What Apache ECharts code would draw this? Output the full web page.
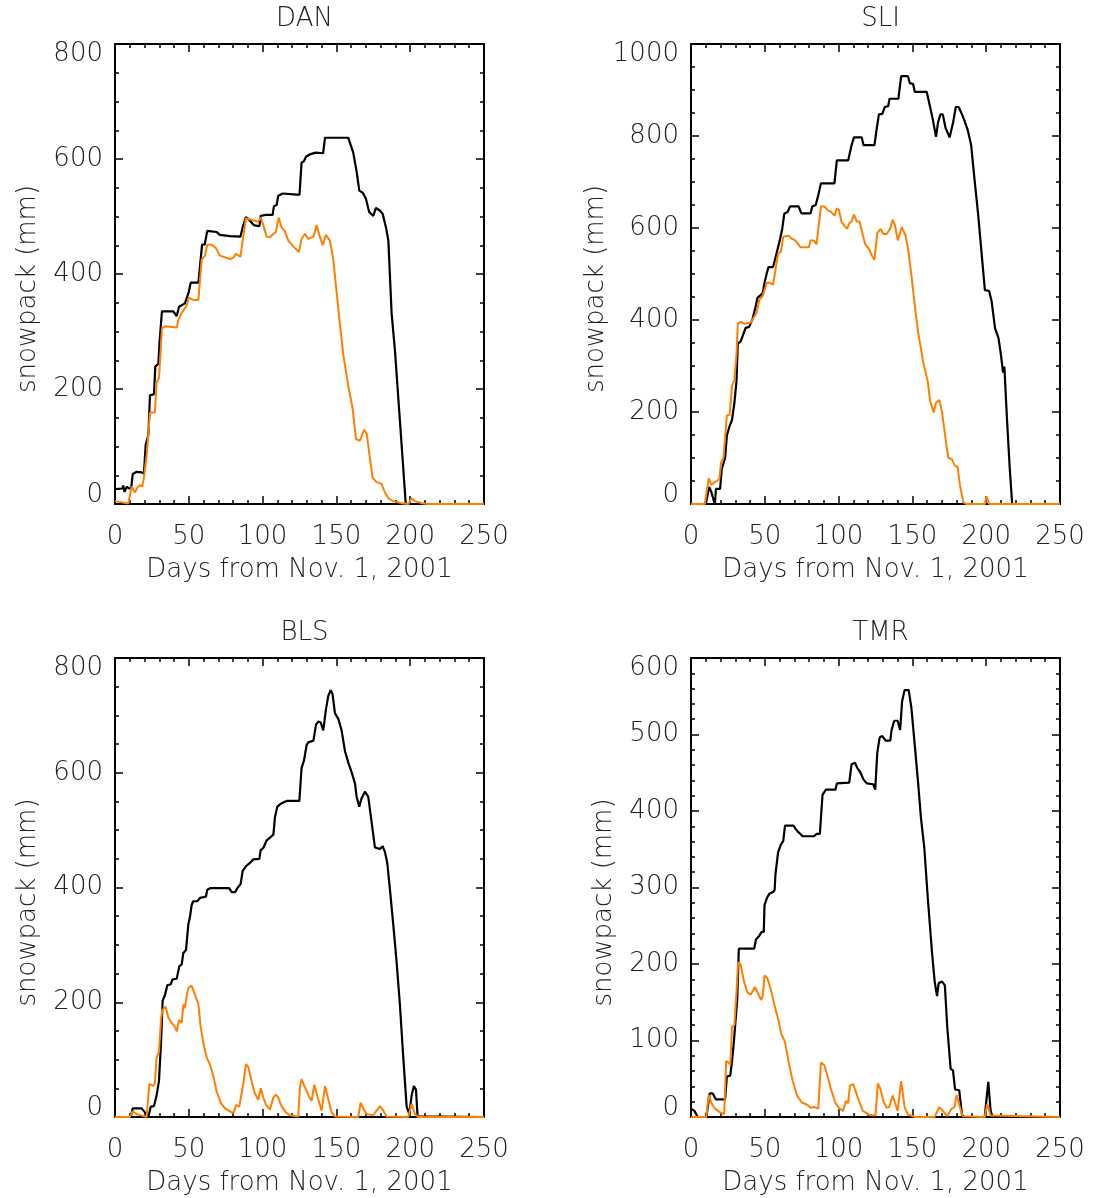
<!DOCTYPE html>
<html>
<head>
<meta charset="utf-8">
<script src="https://cdn.jsdelivr.net/npm/echarts@6/dist/echarts.min.js"></script>
<style>
html,body{margin:0;padding:0;background:#fff;}
#chart{width:1096px;height:1198px;}
</style>
</head>
<body>
<div id="chart"></div>
<script>
// ---------- data (day since Nov 1 2001, snowpack mm) ----------
const panelNames = ['DAN', 'SLI', 'BLS', 'TMR'];
const xTicks = [0, 50, 100, 150, 200, 250];
const yMaxes = [800, 1000, 800, 600];
const yIntervals = [200, 200, 200, 100];

const danBlack = [[0,26],[5,27],[5.6,32],[6.5,21],[8,30],[9.5,27],[11,28],[12,52],[14.6,56],[18,55],[19.6,53],[20.8,103],[22.6,120],[23.7,189],[26.4,191],[27.3,239],[29.4,244],[30.1,279],[31.8,335],[39.5,335],[41.8,327],[43.4,343],[47.4,349],[48.5,352],[50,369],[51.3,385],[56.5,385],[59,451],[60.8,451],[62.5,475],[68.9,473],[71,468],[78,466],[85,465],[86.5,481],[88.7,499],[91,494],[94,485],[97.8,483],[98.7,501],[102.7,503],[106.8,503],[107.7,518],[109.5,520],[110.6,536],[113.6,540],[123,538],[125,538],[126.4,594],[128,596],[129.4,604],[132,608],[136,611],[141,610],[142.3,637],[158,637],[161.4,611],[163.7,578],[165.5,545],[168,541],[170,531],[172.2,508],[175,501],[176.8,515],[179.5,510],[181.3,505],[183.6,481],[185.2,458],[187.4,332],[189.7,266],[193,146],[197,0],[250,0]];
const danOrange = [[0,5],[9,1],[11.3,30],[13.5,20],[15,28],[17,33],[18.5,30],[19.6,46],[21.5,86],[23.7,159],[27,159],[28.2,212],[29.8,219],[31.8,305],[33.9,309],[41.8,307],[42.9,319],[45,332],[46.3,335],[48.5,345],[50,359],[53,355],[56.5,355],[58.7,425],[61,432],[62.5,451],[65.5,451],[68.4,445],[71,432],[78,426],[80,428],[82,435],[85,430],[86.5,458],[88.7,497],[97,491],[98.7,498],[100.5,485],[102.7,465],[105,464],[107,469],[109,473],[110.9,498],[112.9,481],[115,475],[117.4,458],[120.8,448],[124.6,438],[126.4,461],[128.7,470],[131,461],[134.4,465],[136.6,485],[138.4,468],[140.7,450],[142.9,468],[145.6,458],[147.9,425],[150,372],[152.4,312],[154.7,259],[158,206],[161,166],[163.3,113],[166,110],[168.7,129],[170.5,123],[172.7,80],[174.5,46],[177.2,38],[180.6,35],[182.9,20],[185.2,10],[188.5,5],[195,1],[198.7,0],[201,10],[203,5],[208.8,1],[212,0],[250,0]];

const sliBlack = [[0,0],[10,0],[12.3,37],[13.9,25],[15.6,5],[16.2,0],[16.9,33],[19.7,33],[20.8,75],[23.1,100],[24.3,149],[26.2,170],[27.8,183],[29.4,220],[30.8,266],[31.7,349],[33.6,353],[35.4,369],[37,383],[39.4,385],[41.7,402],[44,432],[45,448],[48.6,458],[49.8,481],[51.4,502],[52.5,515],[55.6,515],[57.9,544],[60.2,574],[61.8,598],[63.2,631],[65.5,635],[67.1,647],[72.9,647],[74.8,632],[81,632],[82.2,647],[84.5,650],[86.3,672],[88,697],[97.2,697],[98.8,747],[106.5,747],[107.6,763],[108.8,780],[110.4,797],[115.7,797],[116.9,780],[124.3,780],[125.7,813],[127.3,847],[129.6,848],[131.3,863],[133.6,865],[134.5,881],[140.5,881],[142.4,930],[147,930],[148.2,915],[150.5,913],[151.6,896],[159.7,896],[162,863],[163.7,838],[166,798],[167.4,830],[169,847],[170.6,847],[172.5,817],[175.2,797],[177.6,830],[179.4,863],[181.3,863],[183.6,847],[185.2,834],[187.5,813],[189.8,780],[192.1,705],[194.5,631],[196.8,548],[199.1,465],[200.2,469],[202,463],[203.7,440],[206,382],[208.3,361],[210,324],[211.4,286],[212.3,299],[214.1,183],[216,75],[217.6,0],[250,0]];
const sliOrange = [[0,0],[9.3,0],[12,56],[13.9,41],[15.5,46],[17.4,50],[19.2,54],[20.4,91],[22,100],[24.3,193],[26.2,193],[27.8,257],[29.4,270],[30.8,324],[31.7,392],[33.6,396],[35.9,392],[40.5,394],[42.8,407],[44.4,415],[46.3,444],[48.6,452],[49.8,465],[51.4,481],[53.2,481],[55.6,477],[56.7,481],[59,544],[60.9,548],[62.5,581],[63.7,585],[66,583],[68.3,577],[70.6,573],[72.9,564],[74.1,558],[79.9,558],[81,573],[83.3,573],[85,564],[86.3,598],[88,647],[90.3,647],[92.6,639],[94.9,635],[97.2,627],[98.8,643],[100.2,639],[101.9,614],[104.2,604],[105.8,598],[107.2,610],[108.8,614],[110.4,629],[112.3,614],[114.2,614],[116.4,585],[118.1,564],[120.4,556],[122.7,539],[124.3,531],[126.2,589],[127.3,589],[128.5,598],[130.3,587],[132.6,587],[135,599],[136.6,618],[138.2,606],[140.1,573],[142.8,602],[145.2,585],[147,556],[149.3,498],[151.6,432],[153.9,373],[157.4,307],[160.4,266],[162,224],[164.4,199],[166,220],[168.3,226],[170.1,199],[172.5,141],[174.3,100],[176.6,98],[178.9,83],[180.6,81],[182.2,41],[184.5,4],[186.4,0],[199.1,0],[200.2,17],[202,0],[250,0]];

const blsBlack = [[0,0],[10.6,0],[12,15],[18,15],[20.3,8],[22.6,0],[24.2,18],[26.4,19],[28.2,38],[29.8,63],[31.2,131],[32.3,203],[33.9,213],[35.5,230],[37.7,231],[39,240],[41.8,241],[43.6,263],[45.2,266],[46.3,286],[48.1,291],[49.7,336],[50.8,349],[51.9,369],[53,376],[55.8,376],[57.6,382],[61.6,384],[62.5,396],[64.8,399],[77.4,399],[79,392],[81.5,392],[82.9,399],[85.1,406],[86.5,429],[88.7,437],[91,442],[93.7,449],[97.8,450],[98.7,465],[100.5,469],[102.7,482],[105,487],[107.3,492],[108.4,523],[110,541],[111.8,545],[114,548],[116.7,551],[124.9,551],[126.4,608],[128,621],[129.8,648],[130.9,653],[134.4,656],[136.2,684],[137.7,689],[139.3,688],[141.1,674],[142.9,710],[144.5,734],[146.1,744],[147.4,737],[149,704],[151.3,694],[153.5,674],[155.8,638],[158,618],[160.3,601],[162.6,581],[163.7,558],[165.5,541],[167,555],[169.3,567],[171.6,558],[173.8,515],[176.1,470],[179.5,467],[181.3,472],[182.9,462],[184.5,442],[186.3,396],[188.5,336],[190.8,270],[193,197],[195.3,104],[197.6,18],[199.4,5],[201,38],[202.5,54],[203.9,48],[205,1],[206,0],[250,0]];
const blsOrange = [[0,0],[10,0],[12,10],[14.7,5],[21.4,0],[23.3,58],[25.5,54],[27,58],[28.2,104],[29.8,114],[31.2,170],[32.1,187],[34.3,192],[36.1,174],[38.4,164],[40.6,157],[41.8,149],[43.4,169],[44.5,170],[45.2,164],[46.3,196],[47.4,190],[48.5,210],[49.7,225],[51.9,229],[54.2,213],[56.5,197],[58,157],[60.3,124],[62.1,104],[64.4,91],[66.6,72],[68.9,44],[71.6,25],[74.5,15],[79,8],[80.5,8],[82,21],[84.2,18],[85.1,16],[86.9,58],[88.7,92],[90.3,87],[92.6,61],[94.8,41],[97.1,30],[98.7,50],[100.5,34],[102.3,21],[105,13],[107.3,34],[109,39],[110.6,34],[112.9,18],[115.8,8],[118.5,3],[124.2,1],[125.3,51],[126.4,66],[127.6,58],[128.7,59],[131,38],[133.2,28],[135,56],[136.2,59],[137.7,31],[140,11],[141,8],[142.3,54],[144.5,31],[146.8,8],[149,1],[150,0],[164.8,0],[166.4,25],[168.2,15],[170.5,5],[175,3],[177.2,11],[179.5,19],[181.3,13],[184,1],[185,0],[198.7,0],[201,23],[203.2,5],[205.5,0],[250,0]];

const tmrBlack = [[0,11],[2.3,8],[4.6,0],[10.4,0],[12.7,31],[14.6,31],[16.9,23],[23.1,23],[24.3,53],[26.6,54],[27.8,73],[28.9,95],[30.2,95],[31.3,153],[32.4,220],[42.8,220],[44,232],[45.1,234],[46.3,237],[47.9,242],[49.3,242],[49.8,277],[51.6,287],[53.2,292],[55.6,294],[56.7,297],[57.2,317],[59,346],[60.9,356],[62.5,361],[63.7,381],[69.4,381],[71.1,376],[72.9,372],[75.7,367],[83.3,367],[85,370],[87.3,370],[89.1,421],[91.4,428],[97.9,428],[98.8,436],[107.2,437],[108.8,461],[111.1,463],[112.7,456],[114.6,451],[116.9,441],[119.2,436],[123.4,435],[124.8,428],[126.2,476],[127.8,496],[129.6,498],[131.9,492],[135,492],[135.9,506],[137.7,518],[140,518],[141.7,506],[143,543],[144.7,558],[147.5,558],[149.3,535],[151.6,486],[153.9,436],[155.8,391],[158.1,351],[160.4,287],[163.2,217],[165.1,177],[166.7,158],[167.8,175],[170.1,177],[172,172],[173.6,118],[175.9,63],[177.5,61],[178.9,36],[181.7,35],[183.6,3],[185.2,0],[199,0],[201.4,46],[203,8],[204.4,0],[250,0]];
const tmrOrange = [[0,0],[10.4,0],[12,29],[13.9,18],[16.2,11],[19.7,6],[22.5,4],[23.8,73],[25.5,71],[26.6,68],[27.8,118],[29.4,120],[30.8,163],[31.9,202],[33.6,200],[35.9,177],[38.2,163],[40.5,160],[41.7,158],[43.3,170],[45.1,163],[47.5,153],[48.6,158],[49.8,185],[51.6,182],[53.9,168],[56.7,145],[59,128],[61.3,108],[63.7,98],[66,73],[68.8,48],[71.8,28],[75.2,19],[78.7,16],[81,12],[83.3,13],[86.3,11],[88,71],[90.3,68],[92.6,53],[94.9,36],[97.9,18],[100.7,11],[103,8],[104.9,21],[106.5,18],[107.6,41],[109.9,43],[111.1,42],[113.4,23],[116.4,8],[120.4,3],[125,2],[126.6,44],[128.5,36],[130.3,21],[132.6,12],[134.3,13],[136.6,28],[137.7,26],[140,8],[142.4,47],[144.7,13],[147,3],[150.5,1],[152,0],[165,0],[168.3,13],[170.6,8],[173.6,1],[176.6,11],[178.5,13],[179.9,29],[181,28],[182.9,8],[184,1],[185,0],[199,0],[200.7,17],[203,2],[204,0],[250,0]];

const blackSeries = [danBlack, sliBlack, blsBlack, tmrBlack];
const orangeSeries = [danOrange, sliOrange, blsOrange, tmrOrange];

// ---------- layout / style ----------
const FONT = "'DejaVu Sans', sans-serif";
const FW = 200;
const FS = 26;
const TXT = '#222';
const ORANGE = '#ff7f00';
const grids = [
  {left: 115, top: 44, width: 369, height: 460},
  {left: 691, top: 44, width: 369, height: 460},
  {left: 115, top: 658, width: 369, height: 459},
  {left: 691, top: 658, width: 369, height: 459}
];
const titleTops = [1, 1, 615, 615];
const yMinorSplits = [4, 4, 4, 5];

const option = {
  backgroundColor: '#fff',
  animation: false,
  title: [], grid: [], xAxis: [], yAxis: [], series: []
};

const lineStyleAxis = {color: '#000', width: 2};
const tickStyle = {color: '#000', width: 1.5};

panelNames.forEach((name, i) => {
  const g = grids[i];
  option.grid.push(Object.assign({outerBoundsMode: 'none', containLabel: false}, g));
  option.title.push({
    text: name, left: g.left + g.width / 2, top: titleTops[i], textAlign: 'center',
    textStyle: {fontFamily: FONT, fontWeight: FW, fontSize: FS, color: TXT}
  });
  const xBase = {
    gridIndex: i, type: 'value', min: xTicks[0], max: xTicks[xTicks.length - 1],
    interval: xTicks[1] - xTicks[0],
    axisLine: {show: true, onZero: false, lineStyle: lineStyleAxis},
    axisTick: {show: true, inside: true, length: 8, lineStyle: tickStyle},
    minorTick: {show: true, splitNumber: 5, length: 4, lineStyle: tickStyle},
    splitLine: {show: false}, minorSplitLine: {show: false}
  };
  option.xAxis.push(Object.assign({}, xBase, {
    position: 'bottom',
    axisLabel: {show: true, margin: 20, fontFamily: FONT, fontWeight: FW, fontSize: FS, color: TXT,
                showMinLabel: true, showMaxLabel: true, hideOverlap: false},
    name: 'Days from Nov. 1, 2001', nameLocation: 'middle', nameGap: 53,
    nameTextStyle: {fontFamily: FONT, fontWeight: FW, fontSize: FS, color: TXT}
  }));
  option.xAxis.push(Object.assign({}, xBase, {position: 'top', axisLabel: {show: false}}));

  const ymax = yMaxes[i];
  const yBase = {
    gridIndex: i, type: 'value', min: 0, max: ymax, interval: yIntervals[i],
    axisLine: {show: true, onZero: false, lineStyle: lineStyleAxis},
    axisTick: {show: true, inside: true, length: 8, lineStyle: tickStyle},
    minorTick: {show: true, splitNumber: yMinorSplits[i], length: 4, lineStyle: tickStyle},
    splitLine: {show: false}, minorSplitLine: {show: false}
  };
  const rs = {fontFamily: FONT, fontWeight: FW, fontSize: FS, color: TXT};
  option.yAxis.push(Object.assign({}, yBase, {
    position: 'left',
    axisLabel: {
      show: true, margin: 12, showMinLabel: true, showMaxLabel: true, hideOverlap: false,
      fontFamily: FONT, fontWeight: FW, fontSize: FS, color: TXT,
      formatter: function (v) {
        if (v === ymax) return '{t|' + v + '}';
        if (v === 0) return '{b|' + v + '}';
        return '{n|' + v + '}';
      },
      rich: {
        n: rs,
        t: Object.assign({padding: [20, 0, 0, 0]}, rs),
        b: Object.assign({padding: [0, 0, 18, 0]}, rs)
      }
    },
    name: 'snowpack (mm)', nameLocation: 'middle', nameGap: 74,
    nameTextStyle: {fontFamily: FONT, fontWeight: FW, fontSize: FS, color: TXT, padding: [0, 30, 0, 0]}
  }));
  option.yAxis.push(Object.assign({}, yBase, {position: 'right', axisLabel: {show: false}}));

  option.series.push({
    type: 'line', xAxisIndex: 2 * i, yAxisIndex: 2 * i, data: blackSeries[i],
    showSymbol: false, symbol: 'none', clip: false, z: 3,
    lineStyle: {color: '#000', width: 2.2}
  });
  option.series.push({
    type: 'line', xAxisIndex: 2 * i, yAxisIndex: 2 * i, data: orangeSeries[i],
    showSymbol: false, symbol: 'none', clip: false, z: 4,
    lineStyle: {color: ORANGE, width: 2}
  });
});

const chart = echarts.init(document.getElementById('chart'), null, {renderer: 'canvas'});
chart.setOption(option);
</script>
</body>
</html>
